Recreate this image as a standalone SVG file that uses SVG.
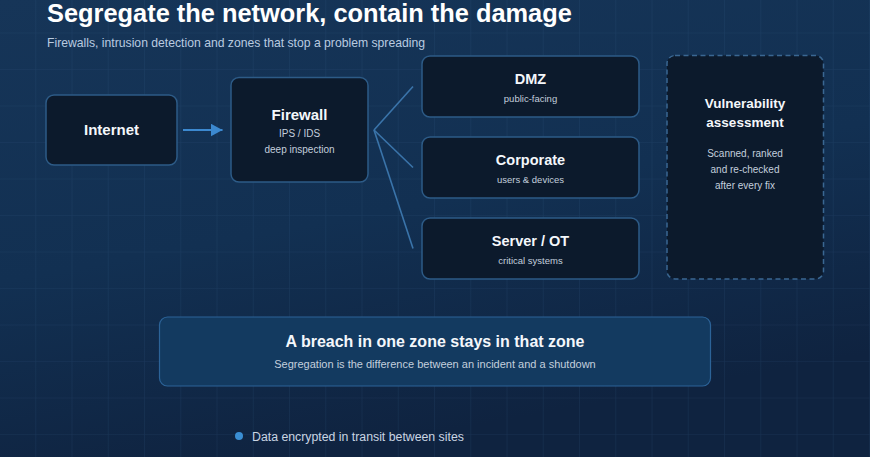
<svg xmlns="http://www.w3.org/2000/svg" width="870" height="457" viewBox="0 0 870 457">
  <defs>
    <linearGradient id="bg" x1="0" y1="0" x2="0.35" y2="1">
      <stop offset="0" stop-color="#163558"/>
      <stop offset="0.55" stop-color="#123052"/>
      <stop offset="1" stop-color="#0f2340"/>
    </linearGradient>
    <pattern id="grid" x="0" y="-3" width="36.25" height="36.5" patternUnits="userSpaceOnUse">
      <path d="M36.25 0V36.5M0 36.5H36.25" fill="none" stroke="#3d6690" stroke-opacity="0.22" stroke-width="1.2"/>
    </pattern>
    <marker id="arrow" markerWidth="12" markerHeight="13" refX="12" refY="6.5" orient="auto" markerUnits="userSpaceOnUse">
      <path d="M0 0L12 6.5L0 13Z" fill="#3c89d0"/>
    </marker>
    <style>
      .box { fill: #0c1a2c; stroke: #2d5b87; stroke-width: 1.5; }
      .dash { fill: #0c1a2c; stroke: #3a6792; stroke-width: 1.5; stroke-dasharray: 5 3.5; }
      .breach { fill: #133a60; stroke: #2c6398; stroke-width: 1.2; }
      .t { font-family: "Liberation Sans", Arial, sans-serif; fill: #f4f7fb; font-weight: bold; text-anchor: middle; }
      .s { font-family: "Liberation Sans", Arial, sans-serif; fill: #c3cfdd; text-anchor: middle; }
      .conn { stroke: #3a74aa; stroke-width: 1.6; fill: none; }
    </style>
  </defs>
  <rect width="870" height="457" fill="url(#bg)"/>
  <rect width="870" height="457" fill="url(#grid)"/>

  <text x="47" y="22" font-family="Liberation Sans, Arial, sans-serif" font-size="25.4" font-weight="bold" fill="#ffffff">Segregate the network, contain the damage</text>
  <text x="47" y="47" font-family="Liberation Sans, Arial, sans-serif" font-size="12.2" fill="#b9cbe0">Firewalls, intrusion detection and zones that stop a problem spreading</text>

  <g id="connectors">
    <line x1="183" y1="130" x2="222.5" y2="130" stroke="#3c89d0" stroke-width="2.2" marker-end="url(#arrow)"/>
    <line class="conn" x1="374" y1="130" x2="413" y2="86.5"/>
    <line class="conn" x1="374" y1="130" x2="413" y2="167.5"/>
    <line class="conn" x1="374" y1="130" x2="413" y2="248.5"/>
  </g>

  <g id="internet">
    <rect class="box" x="46" y="95" width="131" height="70" rx="8"/>
    <text class="t" x="111.5" y="135" font-size="15">Internet</text>
  </g>

  <g id="firewall">
    <rect class="box" x="231" y="77.5" width="137" height="104.5" rx="8"/>
    <text class="t" x="299.5" y="120" font-size="15">Firewall</text>
    <text class="s" x="299.5" y="137" font-size="10">IPS / IDS</text>
    <text class="s" x="299.5" y="153" font-size="10">deep inspection</text>
  </g>

  <g id="dmz">
    <rect class="box" x="422" y="56" width="217" height="61" rx="8"/>
    <text class="t" x="530.5" y="84" font-size="14.5">DMZ</text>
    <text class="s" x="530.5" y="102" font-size="9.5">public-facing</text>
  </g>

  <g id="corporate">
    <rect class="box" x="422" y="137" width="217" height="61" rx="8"/>
    <text class="t" x="530.5" y="165" font-size="14.5">Corporate</text>
    <text class="s" x="530.5" y="183" font-size="9.5">users &amp; devices</text>
  </g>

  <g id="server">
    <rect class="box" x="422" y="218" width="217" height="61" rx="8"/>
    <text class="t" x="530.5" y="246" font-size="14.5">Server / OT</text>
    <text class="s" x="530.5" y="264" font-size="9.5">critical systems</text>
  </g>

  <g id="vulnerability">
    <rect class="dash" x="667" y="55.5" width="156.5" height="223.5" rx="8"/>
    <text class="t" x="745" y="108" font-size="13.5">Vulnerability</text>
    <text class="t" x="745" y="127" font-size="13.5">assessment</text>
    <text class="s" x="745" y="157" font-size="10">Scanned, ranked</text>
    <text class="s" x="745" y="173" font-size="10">and re-checked</text>
    <text class="s" x="745" y="189" font-size="10">after every fix</text>
  </g>

  <g id="breach">
    <rect class="breach" x="159.5" y="317" width="551" height="69" rx="8"/>
    <text class="t" x="435" y="347" font-size="16">A breach in one zone stays in that zone</text>
    <text class="s" x="435" y="368" font-size="11">Segregation is the difference between an incident and a shutdown</text>
  </g>

  <g id="bullets">
    <circle cx="239" cy="436" r="4" fill="#3a8ed3"/>
    <text x="252" y="441" font-family="Liberation Sans, Arial, sans-serif" font-size="12.3" fill="#c9d5e3">Data encrypted in transit between sites</text>
  </g>
</svg>
